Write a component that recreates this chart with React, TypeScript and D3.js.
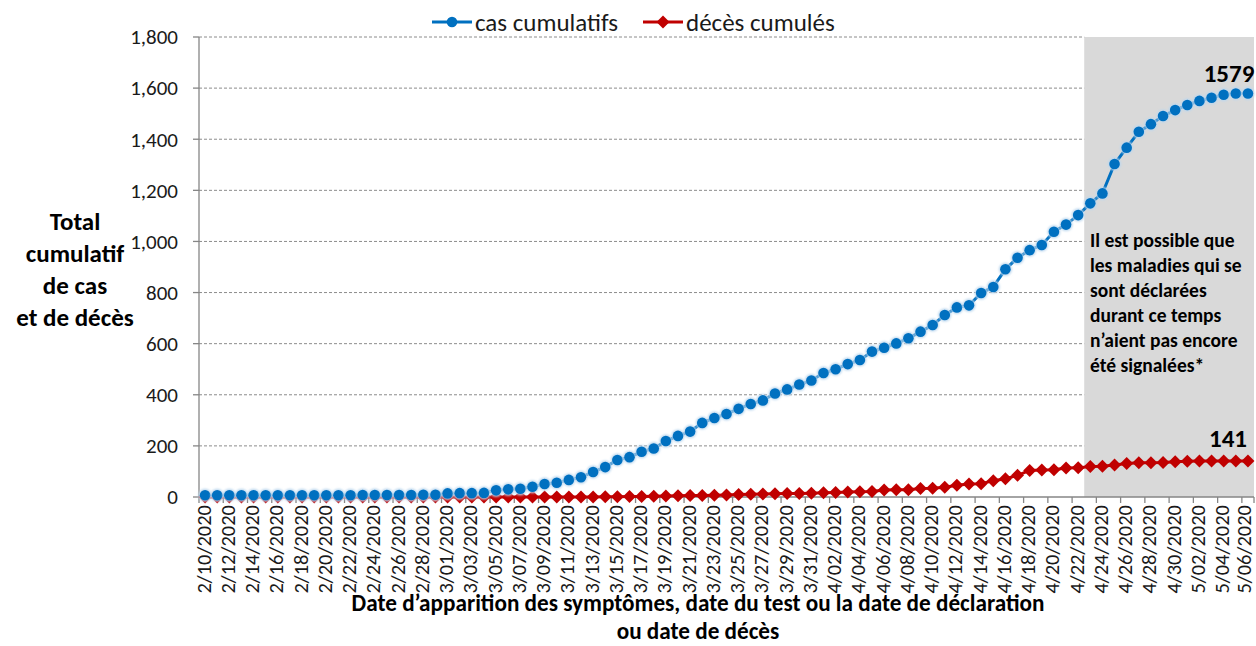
import React from 'react';
import * as d3 from 'd3';

if (typeof document !== 'undefined') {
  document.body.style.margin = '0';
}

const START = new Date(2020, 1, 10);
const END = new Date(2020, 4, 7);
const dates = d3.timeDay.range(START, END);
const fmt = d3.timeFormat('%-m/%d/%Y');
const dateLabels = dates.map(fmt);

const cases = [
  7, 7, 7, 7, 7, 7, 7, 7, 7, 7, 7, 7, 7, 8, 8, 8, 8, 8, 9, 9,
  14, 15, 15, 16, 26, 30, 32, 40, 51, 56,
  67, 77, 98, 117, 145, 156, 177, 190, 219, 239,
  256, 290, 309, 325, 345, 364, 378, 405, 421, 440,
  456, 485, 500, 520, 536, 569, 584, 601, 621, 647,
  673, 712, 742, 750, 798, 822, 891, 936, 966, 986,
  1038, 1066, 1103, 1149, 1188, 1303, 1367, 1429, 1459, 1491,
  1514, 1534, 1550, 1562, 1574, 1579, 1579,
];

const deaths = [
  0, 0, 0, 0, 0, 0, 0, 0, 0, 0, 0, 0, 0, 0, 0, 0, 0, 0, 0, 0,
  0, 0, 0, 0, 0, 0, 0, 0, 0, 0,
  0, 0, 0, 1, 1, 2, 2, 3, 4, 5,
  6, 6, 7, 8, 10, 11, 12, 13, 14, 14,
  15, 17, 18, 20, 21, 22, 27, 28, 28, 33,
  34, 38, 46, 51, 52, 64, 71, 85, 104, 106,
  107, 113, 114, 119, 120, 125, 131, 134, 134, 135,
  138, 140, 141, 141, 141, 141, 141,
];

const yTicks = [0, 200, 400, 600, 800, 1000, 1200, 1400, 1600, 1800];
const seriesNames = ['cas cumulatifs', 'décès cumulés'];
const yTitleLines = ['Total', 'cumulatif', 'de cas', 'et de décès'];
const xTitleLines = [
  'Date d’apparition des symptômes, date du test ou la date de déclaration',
  'ou date de décès',
];
const noteLines = [
  'Il est possible que',
  'les maladies qui se',
  'sont déclarées',
  'durant ce temps',
  'n’aient pas encore',
  'été signalées*',
];
const shadeStartLabel = '4/23/2020';

const BLUE = '#0070C0';
const RED = '#C00000';
const FONT = "Carlito, Calibri, 'Liberation Sans', Arial, sans-serif";

export default function App() {
  const W = 1256;
  const H = 646;
  const left = 199;
  const right = 1254;
  const top = 37;
  const bottom = 497;

  const idx = dateLabels.map((_, i) => i);
  const x = d3.scaleBand<number>().domain(idx).range([left, right]).padding(0);
  const bw = x.bandwidth();
  const cx = (i: number) => (x(i) as number) + bw / 2;
  const y = d3.scaleLinear().domain([0, 1800]).range([bottom, top]);

  const line = d3
    .line<number>()
    .x((_, i) => cx(i))
    .y((d) => y(d));

  const shadeIdx = dateLabels.indexOf(shadeStartLabel);
  const shadeX = x(shadeIdx) as number;

  const diamond = (px: number, py: number, r: number) =>
    `M${px},${py - r}L${px + r},${py}L${px},${py + r}L${px - r},${py}Z`;

  const lastI = cases.length - 1;

  return (
    <svg width={W} height={H} style={{ display: 'block', background: '#fff' }} fontFamily={FONT}>
      <defs>
        <filter id="glow" x="-50%" y="-50%" width="200%" height="200%">
          <feGaussianBlur stdDeviation="1" />
        </filter>
      </defs>
      {/* shaded region */}
      <rect x={shadeX} y={top} width={right - shadeX} height={bottom - top} fill="#d9d9d9" />

      {/* gridlines */}
      {yTicks.map((t) => (
        <line
          key={'g' + t}
          x1={left}
          x2={t === 0 ? left : shadeX}
          y1={y(t)}
          y2={y(t)}
          stroke="#8c8c8c"
          strokeWidth={1}
          strokeDasharray="3,2"
        />
      ))}

      {/* y axis */}
      <line x1={left} x2={left} y1={top} y2={bottom} stroke="#868686" strokeWidth={1.3} />
      {yTicks.map((t) => (
        <g key={'yt' + t}>
          <line x1={left - 6} x2={left} y1={y(t)} y2={y(t)} stroke="#868686" strokeWidth={1.3} />
          <text
            x={178}
            y={y(t)}
            dy="0.35em"
            textAnchor="end"
            fontSize={21}
            fill="#1a1a1a"
          >
            {d3.format(',')(t)}
          </text>
        </g>
      ))}

      {/* x axis */}
      <line x1={left} x2={right} y1={bottom} y2={bottom} stroke="#868686" strokeWidth={1.3} />
      {idx
        .filter((i) => i % 2 === 0)
        .map((i) => (
          <line
            key={'xt' + i}
            x1={x(i) as number}
            x2={x(i) as number}
            y1={bottom}
            y2={bottom + 6}
            stroke="#868686"
            strokeWidth={1.3}
          />
        ))}
      <line x1={right} x2={right} y1={bottom} y2={bottom + 6} stroke="#868686" strokeWidth={1.3} />
      {idx
        .filter((i) => i % 2 === 0)
        .map((i) => (
          <text
            key={'xl' + i}
            transform={`translate(${Math.min(cx(i) + 5.5, 1250.5)},${505}) rotate(-90)`}
            textAnchor="end"
            fontSize={20.5}
            fill="#1a1a1a"
          >
            {dateLabels[i]}
          </text>
        ))}

      {/* deaths series */}
      <path d={line(deaths) || ''} fill="none" stroke={RED} strokeWidth={3} />
      {deaths.map((d, i) => (
        <path key={'dm' + i} d={diamond(cx(i), y(d), 6.5)} fill={RED} />
      ))}

      {/* cases series */}
      <path d={line(cases) || ''} fill="none" stroke={BLUE} strokeWidth={3} />
      {cases.map((d, i) => (
        <g key={'cm' + i}>
          <circle cx={cx(i)} cy={y(d)} r={6.5} fill="#bcd7ee" filter="url(#glow)" />
          <circle cx={cx(i)} cy={y(d)} r={5.3} fill={BLUE} />
        </g>
      ))}

      {/* end labels */}
      <text x={1229} y={82} textAnchor="middle" fontSize={25} fontWeight="bold" fill="#000">
        {cases[lastI]}
      </text>
      <text x={1228} y={447} textAnchor="middle" fontSize={25} fontWeight="bold" fill="#000">
        {deaths[lastI]}
      </text>

      {/* note */}
      {noteLines.map((l, k) => (
        <text key={'n' + k} x={1090} y={247 + k * 25} fontSize={19.5} fontWeight="bold" fill="#000">
          {l}
        </text>
      ))}

      {/* legend */}
      <g>
        <line x1={432} x2={472} y1={22} y2={22} stroke={BLUE} strokeWidth={3} />
        <circle cx={452} cy={22} r={5.3} fill={BLUE} />
        <text x={475} y={22} dy="0.35em" fontSize={25} fill="#1a1a1a">
          {seriesNames[0]}
        </text>
        <line x1={643} x2={683} y1={22} y2={22} stroke={RED} strokeWidth={3} />
        <path d={diamond(663, 22, 6.5)} fill={RED} />
        <text x={686} y={22} dy="0.35em" fontSize={25} fill="#1a1a1a">
          {seriesNames[1]}
        </text>
      </g>

      {/* y title */}
      {yTitleLines.map((l, k) => (
        <text key={'yl' + k} x={75} y={230 + k * 32} textAnchor="middle" fontSize={25} fontWeight="bold" fill="#000">
          {l}
        </text>
      ))}

      {/* x title */}
      {xTitleLines.map((l, k) => (
        <text key={'xl2' + k} x={698} y={611 + k * 28} textAnchor="middle" fontSize={23.2} fontWeight="bold" fill="#000">
          {l}
        </text>
      ))}
    </svg>
  );
}
